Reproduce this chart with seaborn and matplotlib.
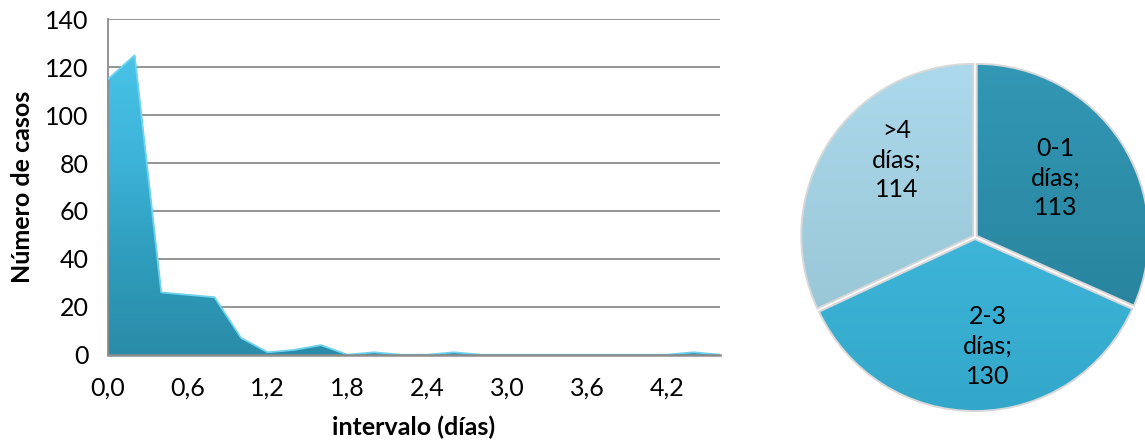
import numpy as np
import matplotlib
matplotlib.use("Agg")
import matplotlib.pyplot as plt
from matplotlib.colors import LinearSegmentedColormap
import pandas as pd
import seaborn as sns

# Distribution of intervals (days) and number of cases
intervalo = [0.0, 0.2, 0.4, 0.6, 0.8, 1.0, 1.2, 1.4, 1.6, 1.8, 2.0, 2.2,
             2.4, 2.6, 2.8, 3.0, 3.2, 3.4, 3.6, 3.8, 4.0, 4.2, 4.4, 4.6]
casos = [115, 125, 26, 25, 24, 7, 1, 2, 4, 0, 1, 0,
         0, 1, 0, 0, 0, 0, 0, 0, 0, 0, 1, 0]
x_ticks = [0.0, 0.6, 1.2, 1.8, 2.4, 3.0, 3.6, 4.2]
x_labels = ["0,0", "0,6", "1,2", "1,8", "2,4", "3,0", "3,6", "4,2"]
y_ticks = [0, 20, 40, 60, 80, 100, 120, 140]

# Grouped intervals for the pie
grupos = ["0-1 días", "2-3 días", ">4 días"]
grupos_n = [113, 130, 114]
grupos_colores = [("#247B94", "#3399B6"),
                  ("#32A6C9", "#48C4E8"),
                  ("#91BFCF", "#ADDAEC")]
# label placement inside each wedge: (radius, angular nudge in degrees)
etiqueta_pos = [(0.58, 3), (0.64, 6), (0.64, -12)]

sns.set_theme(style="white")
plt.rcParams["font.family"] = ["Lato", "DejaVu Sans"]
FS = 18
GRID = "#8C8C8C"

W, H = 1145, 444
fig = plt.figure(figsize=(W / 100, H / 100), dpi=100)

# ---------------- area chart ----------------
ax = fig.add_axes([108 / W, 89.3 / H, 612 / W, 335.4 / H])
df = pd.DataFrame({"intervalo": intervalo, "casos": casos})

ax.set_xlim(intervalo[0], intervalo[-1])
ax.set_ylim(0, 140)

area = ax.fill_between(df["intervalo"], 0, df["casos"], facecolor="#33A3C3",
                       lw=0, zorder=2)
grad = np.linspace(0, 1, 256).reshape(-1, 1)
cmap_area = LinearSegmentedColormap.from_list(
    "area", ["#2A8CA8", "#2F9DBD", "#3DB5DA", "#48C2E6"])
im = ax.imshow(grad, extent=[intervalo[0], intervalo[-1], 0, max(casos)],
               origin="lower", cmap=cmap_area, aspect="auto", zorder=2.1,
               interpolation="bilinear")
im.set_clip_path(area.get_paths()[0], transform=ax.transData)

sns.lineplot(data=df, x="intervalo", y="casos", color="#6FD2EE", lw=1.3,
             ax=ax, zorder=3)

ax.set_yticks(y_ticks)
ax.yaxis.grid(True, color=GRID, lw=1.3)
ax.xaxis.grid(False)
ax.set_axisbelow(True)
for s in ("top", "right"):
    ax.spines[s].set_visible(False)
ax.spines["left"].set_color(GRID)
ax.spines["left"].set_linewidth(1.3)
ax.spines["bottom"].set_color(GRID)
ax.spines["bottom"].set_linewidth(1.8)
ax.spines["bottom"].set_zorder(4)

ax.set_xticks(x_ticks, x_labels)
ax.tick_params(axis="x", length=0, pad=16, labelsize=FS, colors="black")
ax.tick_params(axis="y", length=0, pad=14, labelsize=FS, colors="black")
ax.set_xlabel("intervalo (días)", fontsize=FS, fontweight="bold",
              labelpad=11, color="black")
ax.set_ylabel("Número de casos", fontsize=FS, fontweight="bold",
              labelpad=8, color="black")

# ---------------- pie chart ----------------
cx, cy, R = 975, 237, 172
half = 182
axp = fig.add_axes([(cx - half) / W, (H - cy - half) / H, 2 * half / W, 2 * half / H])
lim = half / R
wedges, _ = axp.pie(grupos_n, startangle=90, counterclock=False, radius=1,
                    explode=[0.012] * 3, colors=["none"] * 3,
                    wedgeprops=dict(lw=1.4, edgecolor="#D8D8D8"))
for w, (c0, c1) in zip(wedges, grupos_colores):
    cm = LinearSegmentedColormap.from_list("w", [c0, c1])
    gi = axp.imshow(grad, extent=[-1.1, 1.1, -1.1, 1.1], origin="lower",
                    cmap=cm, aspect="auto", zorder=0.5, interpolation="bilinear")
    gi.set_clip_path(w)
    w.set_zorder(1)

for w, g, n, (r, dang) in zip(wedges, grupos, grupos_n, etiqueta_pos):
    ang = np.deg2rad((w.theta1 + w.theta2) / 2 + dang)
    rango, unidad = g.split(" ")
    axp.text(r * np.cos(ang), r * np.sin(ang), f"{rango}\n{unidad};\n{n}",
             ha="center", va="center", fontsize=FS, linespacing=1.35,
             color="black", zorder=3)

axp.set_xlim(-lim, lim)
axp.set_ylim(-lim, lim)
axp.set_aspect("equal")
axp.axis("off")

fig.savefig("out.png", dpi=100)
